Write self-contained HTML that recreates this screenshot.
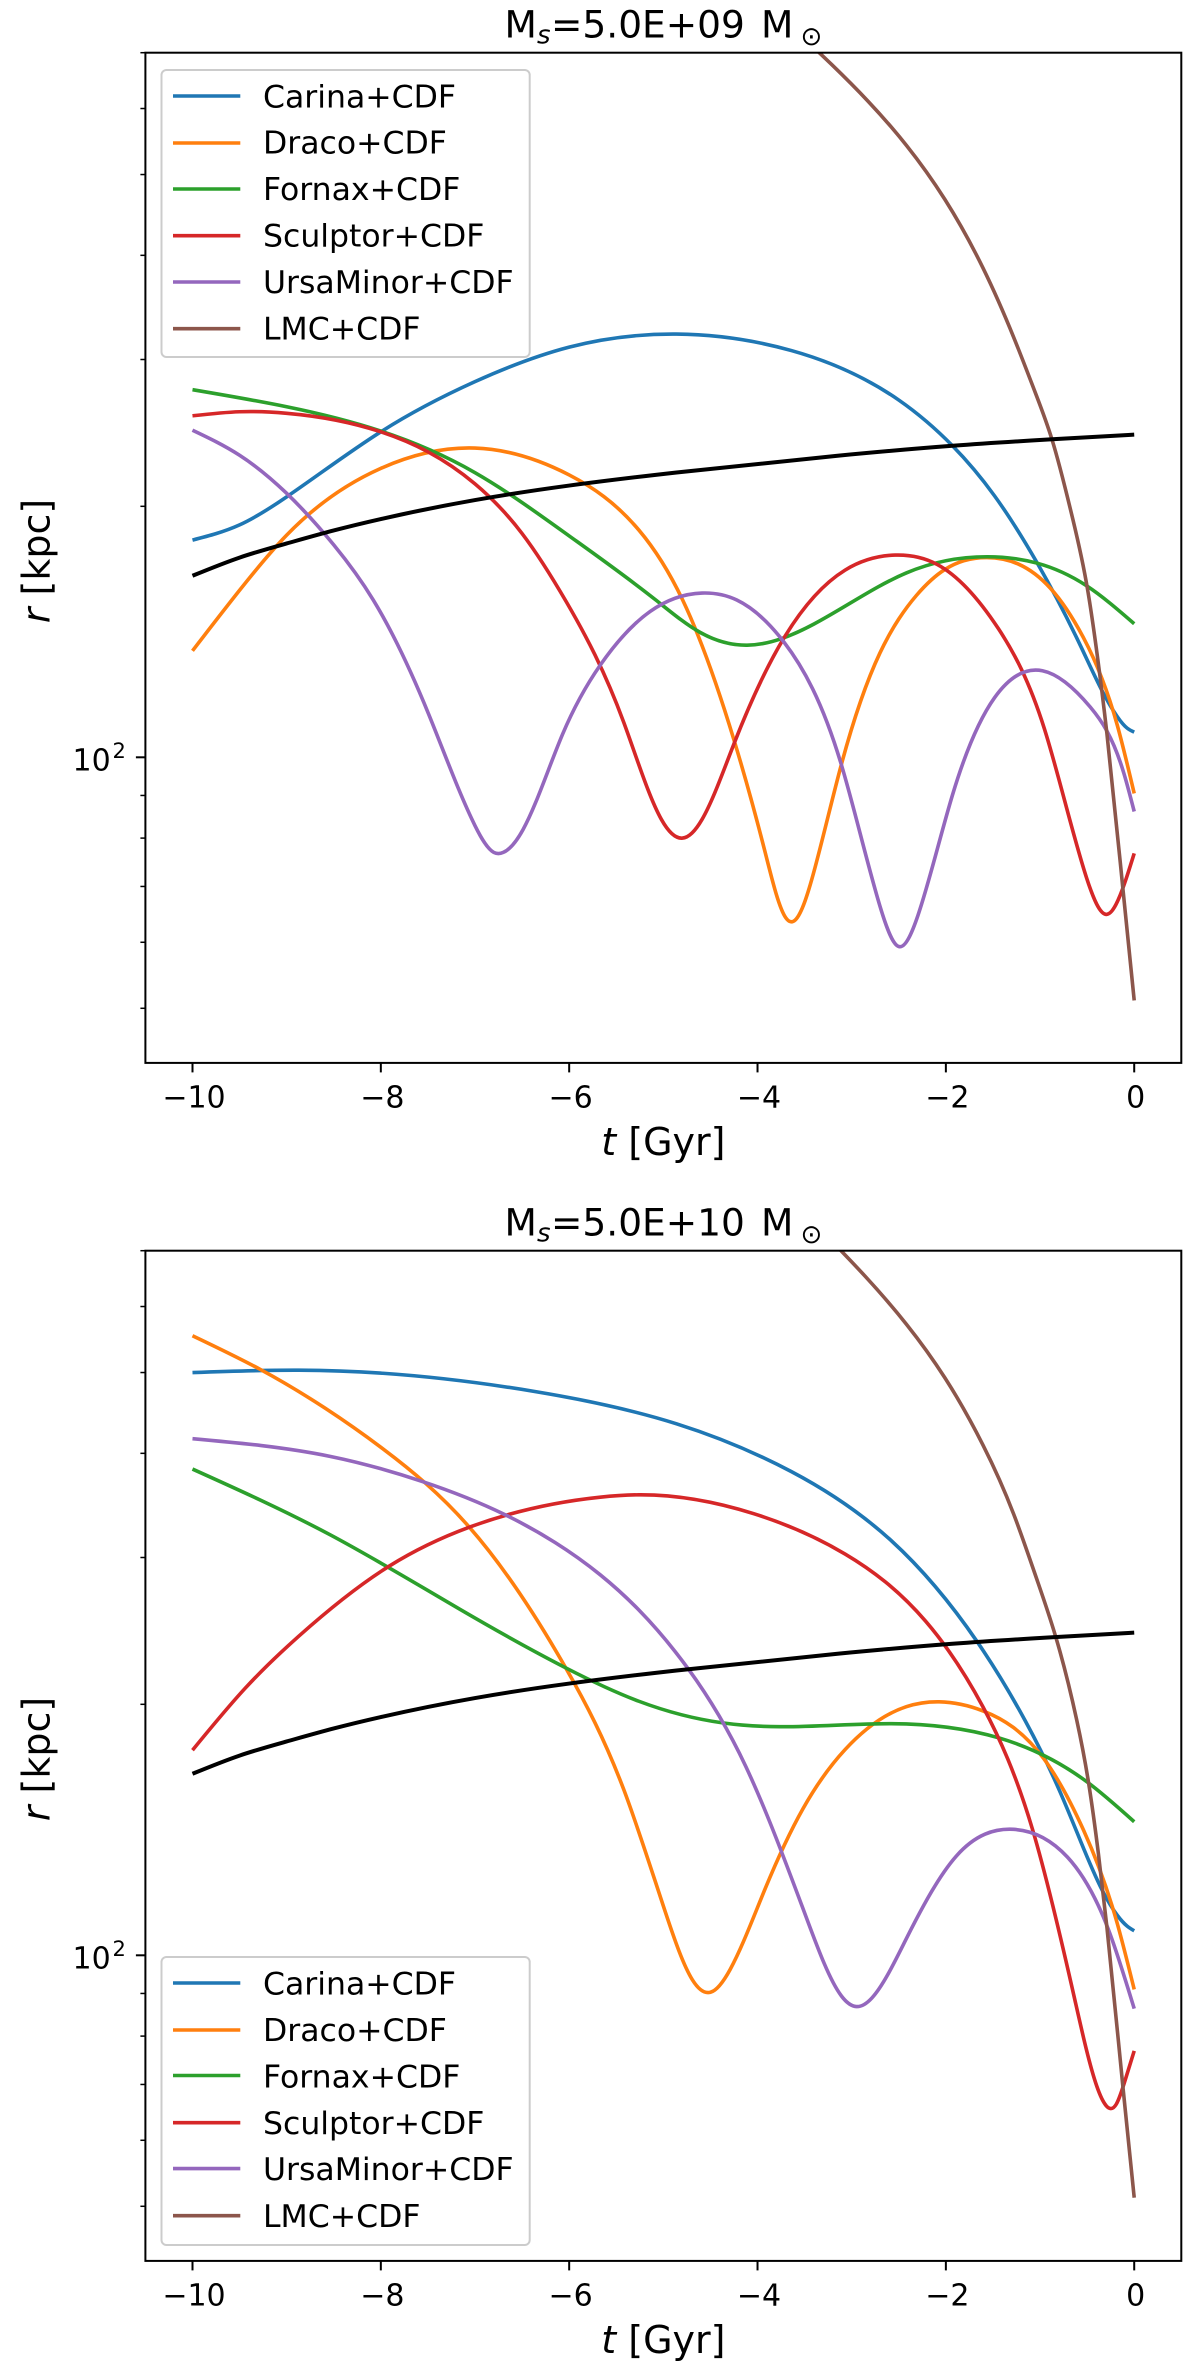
<!DOCTYPE html>
<html lang="en">
<head>
<meta charset="utf-8">
<title>Satellite orbits: galactocentric radius against time</title>
<style>
html,body{margin:0;padding:0;background:#fff;width:1200px;height:2366px;overflow:hidden}
svg{display:block}
text{font-family:"DejaVu Sans","Liberation Sans",sans-serif;fill:#000}
.legend-text{font-size:31.5px}
.title{font-size:37.5px}
.title-sub{font-size:26px}
.axis-label{font-size:38px}
.tick-text{font-size:30px}
</style>
</head>
<body>
<svg id="figure" xmlns="http://www.w3.org/2000/svg" width="1200" height="2366" viewBox="0 0 1200 2366">
  <defs>
    <clipPath id="clip-top"><rect x="145.4" y="52.7" width="1035.9" height="1010.2"/></clipPath>
    <clipPath id="clip-bottom"><rect x="145.4" y="1250.7" width="1035.9" height="1010.2"/></clipPath>
  </defs>

  <g id="panel-top">
    <g id="curves-top" clip-path="url(#clip-top)"></g>
    <g id="axes-top"></g>
    <g>
      <text class="title" x="504.5" y="37.5">M</text>
      <text class="title-sub" x="537" y="43.5" font-style="italic">s</text>
      <text class="title" x="551" y="37.5">=5.0E+09</text>
      <text class="title" x="761" y="37.5">M</text>
      <text class="title-sub" x="800.5" y="45">⊙</text>
    </g>
    <text class="axis-label" x="663.4" y="1155" text-anchor="middle"><tspan font-style="italic">t</tspan> [Gyr]</text>
    <text class="axis-label" transform="translate(49.5,561) rotate(-90)" text-anchor="middle"><tspan font-style="italic">r</tspan> [kpc]</text>
    <g>
      <rect x="161.5" y="70" width="368.2" height="287" rx="5" ry="5" fill="#fff" fill-opacity="0.8" stroke="#ccc" stroke-width="2"/>
      <g><line x1="173" x2="240.3" y1="96" y2="96" stroke="#1f77b4" stroke-width="3.6"/><text class="legend-text" x="263" y="107.3">Carina+CDF</text></g>
      <g><line x1="173" x2="240.3" y1="143" y2="143" stroke="#ff7f0e" stroke-width="3.6"/><text class="legend-text" x="263" y="153.6">Draco+CDF</text></g>
      <g><line x1="173" x2="240.3" y1="189" y2="189" stroke="#2ca02c" stroke-width="3.6"/><text class="legend-text" x="263" y="200">Fornax+CDF</text></g>
      <g><line x1="173" x2="240.3" y1="235.7" y2="235.7" stroke="#d62728" stroke-width="3.6"/><text class="legend-text" x="263" y="246.4">Sculptor+CDF</text></g>
      <g><line x1="173" x2="240.3" y1="282" y2="282" stroke="#9467bd" stroke-width="3.6"/><text class="legend-text" x="263" y="293">UrsaMinor+CDF</text></g>
      <g><line x1="173" x2="240.3" y1="328.7" y2="328.7" stroke="#8c564b" stroke-width="3.6"/><text class="legend-text" x="263" y="339.4">LMC+CDF</text></g>
    </g>
  </g>

  <g id="panel-bottom">
    <g id="curves-bottom" clip-path="url(#clip-bottom)"></g>
    <g id="axes-bottom"></g>
    <g>
      <text class="title" x="504.5" y="1235.5">M</text>
      <text class="title-sub" x="537" y="1241.5" font-style="italic">s</text>
      <text class="title" x="551" y="1235.5">=5.0E+10</text>
      <text class="title" x="761" y="1235.5">M</text>
      <text class="title-sub" x="800.5" y="1243">⊙</text>
    </g>
    <text class="axis-label" x="663.4" y="2353" text-anchor="middle"><tspan font-style="italic">t</tspan> [Gyr]</text>
    <text class="axis-label" transform="translate(49.5,1759) rotate(-90)" text-anchor="middle"><tspan font-style="italic">r</tspan> [kpc]</text>
    <g>
      <rect x="161.5" y="1957" width="368.2" height="288" rx="5" ry="5" fill="#fff" fill-opacity="0.8" stroke="#ccc" stroke-width="2"/>
      <g><line x1="173" x2="240.3" y1="1983" y2="1983" stroke="#1f77b4" stroke-width="3.6"/><text class="legend-text" x="263" y="1994.5">Carina+CDF</text></g>
      <g><line x1="173" x2="240.3" y1="2030" y2="2030" stroke="#ff7f0e" stroke-width="3.6"/><text class="legend-text" x="263" y="2041">Draco+CDF</text></g>
      <g><line x1="173" x2="240.3" y1="2075.5" y2="2075.5" stroke="#2ca02c" stroke-width="3.6"/><text class="legend-text" x="263" y="2087.5">Fornax+CDF</text></g>
      <g><line x1="173" x2="240.3" y1="2122.7" y2="2122.7" stroke="#d62728" stroke-width="3.6"/><text class="legend-text" x="263" y="2134">Sculptor+CDF</text></g>
      <g><line x1="173" x2="240.3" y1="2168.6" y2="2168.6" stroke="#9467bd" stroke-width="3.6"/><text class="legend-text" x="263" y="2180">UrsaMinor+CDF</text></g>
      <g><line x1="173" x2="240.3" y1="2215.7" y2="2215.7" stroke="#8c564b" stroke-width="3.6"/><text class="legend-text" x="263" y="2227">LMC+CDF</text></g>
    </g>
  </g>
</svg>

<script>
// ---- shared axis values ----
const xTickValues = [-10, -8, -6, -4, -2, 0];
const xTickLabels = ["\u221210", "\u22128", "\u22126", "\u22124", "\u22122", "0"];
const yMajorTicks = [100];
const yMinorTicks = [50, 60, 70, 80, 90, 200, 300, 400, 500, 600, 700];

// ---- black reference curve (same in both panels) ----
const tBlack = [-10,-9.5,-9,-8.5,-8,-7,-6,-4.86,-3.15,-1.93,-0.87,0];
const rBlack = [165.1,173.6,180.5,187.1,193.1,203.5,211.8,219.6,230,236.4,240.7,243.8];

// ---- top panel: Ms = 5.0E+09 ----
const tCarinaTop = [-10,-9.5,-9,-8,-7,-6,-4.86,-3.64,-2.5,-1.93,-1.485,-1.03,-0.56,-0.342,-0.18,-0.075,0];
const rCarinaTop = [182.2,190,205.3,245.7,282.2,310.4,321.8,307.5,268.2,236.4,206,171,135.3,120.2,111.9,108.4,107.2];

const tDracoTop = [-10,-9.5,-9,-8,-7,-6,-5.26,-4.795,-4.25,-3.92,-3.7,-3.6,-3.39,-3.11,-2.906,-2.7,-2.5,-2.31,-2.01,-1.565,-0.89,-0.537,-0.18,0];
const rDracoTop = [134.2,158.6,184.7,222.1,234.9,218.1,187.3,154.4,104.9,77,64.2,63.8,73.7,98,116.7,133.4,146.5,156.5,168,173.6,159.5,139,109.3,90.5];

const tFornaxTop = [-10,-9,-8,-7,-6,-5.08,-4.61,-4.11,-3.4,-2.42,-1.56,-0.51,0];
const rFornaxTop = [276,263.3,246.2,219.5,184.3,154.4,141.2,136.3,144.5,166.4,174,160.7,144.6];

const tSculptorTop = [-10,-9.5,-9,-8,-7.5,-7,-6.5,-6.03,-5.42,-5.02,-4.795,-4.59,-4.25,-3.72,-3.07,-2.54,-2.09,-1.443,-0.955,-0.508,-0.297,-0.095,0];
const rSculptorTop = [256.8,259.7,258.6,245.7,232.5,212.8,185.5,153.6,110.1,84.2,80,84.2,103.8,139,167.7,174.8,170.3,142.7,108.3,71.8,64.8,71,76.7];

const tUrsaTop = [-10,-9.5,-9,-8.5,-8.08,-7.49,-7,-6.8,-6.7,-6.49,-6.07,-5.67,-5.14,-4.59,-4.22,-3.72,-3.11,-2.7,-2.5,-2.297,-1.93,-1.483,-0.975,-0.467,-0.11,0];
const rUrsaTop = [246.8,230.3,207.3,179.8,154.4,112.5,82.8,76.9,76.9,81.9,106.6,129,149.6,157.4,154.4,137.5,98,66.3,59.3,64.6,90.1,117.9,127,114.9,95.7,86.1];

const tLmcTop = [-3.6,-2.824,-2.418,-2.01,-1.606,-1.28,-1.036,-0.874,-0.65,-0.495,-0.395,-0.29,-0.122,0];
const rLmcTop = [745,611.8,541.8,466.7,386.3,319,271.1,240.7,192.6,158.9,133.2,106.8,69.9,51.1];

// ---- bottom panel: Ms = 5.0E+10 ----
const tCarinaBottom = [-10,-8.87,-7.98,-6.35,-4.86,-3.64,-2.58,-1.666,-1.156,-0.785,-0.57,-0.34,-0.18,-0.075,0];
const rCarinaBottom = [500,503.3,499,474.2,434,380.3,314.3,237.6,191,156.8,137.1,119.7,111.7,108.4,107];

const tDracoBottom = [-10,-9.28,-8.59,-7.98,-7.06,-6.03,-5.42,-4.98,-4.69,-4.5,-4.29,-3.92,-3.516,-3.07,-2.42,-2.07,-1.606,-0.96,-0.537,-0.18,0];
const rDracoBottom = [553.5,504.3,453,405.2,326.2,220.5,158,112.8,93.4,90.3,96.2,120.1,150,176.5,198.7,201.4,196.4,172.1,141.2,109.2,91];

const tFornaxBottom = [-10,-8.54,-7.16,-6.03,-5.26,-4.37,-3.76,-2.58,-1.43,-0.5,0];
const rFornaxBottom = [383,319.5,260,221,201.7,190,188,189.6,182.2,161.4,144.6];

const tSculptorBottom = [-10,-9.44,-8.87,-7.91,-7.06,-5.67,-5.26,-4.04,-3.07,-2.215,-1.606,-1.08,-0.63,-0.398,-0.297,-0.19,-0.095,0];
const rSculptorBottom = [176.2,209.1,241.5,293,326.2,354.4,356.7,338.6,302.9,251.6,198.6,141.6,88.4,69.7,66,66.3,70.9,76.8];

const tUrsaBottom = [-10,-8.54,-7.57,-6.68,-6.15,-5.67,-5.26,-4.735,-4.125,-3.474,-3.11,-2.95,-2.785,-2.42,-1.89,-1.28,-0.71,-0.27,0];
const rUrsaBottom = [416.5,396.7,370.4,337.6,312.7,286,259.5,220.5,168.5,110.4,89.4,86.8,88.9,104.7,131.5,141.6,131.2,107.1,86.3];

const tLmcBottom = [-3.3,-2.418,-2.01,-1.606,-1.28,-1.036,-0.833,-0.61,-0.486,-0.38,-0.29,-0.122,0];
const rLmcBottom = [736,571.2,492.7,409.3,338.2,282.9,240.9,191.4,161.4,132.3,108.1,69.9,51.2];

// ---- series lists per panel ----
const seriesNames = ["carina", "draco", "fornax", "sculptor", "ursa-minor", "lmc"];
const seriesColors = ["#1f77b4", "#ff7f0e", "#2ca02c", "#d62728", "#9467bd", "#8c564b"];
const timesTop = [tCarinaTop, tDracoTop, tFornaxTop, tSculptorTop, tUrsaTop, tLmcTop];
const radiiTop = [rCarinaTop, rDracoTop, rFornaxTop, rSculptorTop, rUrsaTop, rLmcTop];
const timesBottom = [tCarinaBottom, tDracoBottom, tFornaxBottom, tSculptorBottom, tUrsaBottom, tLmcBottom];
const radiiBottom = [rCarinaBottom, rDracoBottom, rFornaxBottom, rSculptorBottom, rUrsaBottom, rLmcBottom];

// ---- axis functions ----
const NS = "http://www.w3.org/2000/svg";
const PLOT_LEFT = 145.4, PLOT_RIGHT = 1181.3;
const T_MIN = -10.5, T_MAX = 0.5, R_MIN = 43, R_MAX = 700;

function xScale(t) {
  return PLOT_LEFT + (t - T_MIN) / (T_MAX - T_MIN) * (PLOT_RIGHT - PLOT_LEFT);
}
function makeYScale(top, bottom) {
  const span = Math.log10(R_MAX) - Math.log10(R_MIN);
  return function (r) {
    return bottom - (Math.log10(r) - Math.log10(R_MIN)) / span * (bottom - top);
  };
}

// Natural cubic spline through the read points, emitted as Bezier segments
function curvePath(ts, rs, yScale) {
  const xs = ts.map(xScale), ys = rs.map(yScale), n = xs.length;
  const h = [], d = [];
  for (let i = 0; i < n - 1; i++) {
    h.push(xs[i + 1] - xs[i]);
    d.push((ys[i + 1] - ys[i]) / h[i]);
  }
  const s = new Array(n).fill(0), c = new Array(n).fill(0), e = new Array(n).fill(0);
  for (let i = 1; i < n - 1; i++) {
    const piv = 2 * (h[i - 1] + h[i]) - h[i - 1] * c[i - 1];
    c[i] = h[i] / piv;
    e[i] = (6 * (d[i] - d[i - 1]) - h[i - 1] * e[i - 1]) / piv;
  }
  for (let i = n - 2; i > 0; i--) {
    s[i] = e[i] - c[i] * s[i + 1];
  }
  const m = [];
  for (let i = 0; i < n - 1; i++) {
    m.push(d[i] - h[i] * (2 * s[i] + s[i + 1]) / 6);
  }
  m.push(d[n - 2] + h[n - 2] * (s[n - 2] + 2 * s[n - 1]) / 6);
  let path = "M" + xs[0].toFixed(2) + " " + ys[0].toFixed(2);
  for (let i = 0; i < n - 1; i++) {
    path += "C" + (xs[i] + h[i] / 3).toFixed(2) + " " + (ys[i] + m[i] * h[i] / 3).toFixed(2) + " " +
            (xs[i + 1] - h[i] / 3).toFixed(2) + " " + (ys[i + 1] - m[i + 1] * h[i] / 3).toFixed(2) + " " +
            xs[i + 1].toFixed(2) + " " + ys[i + 1].toFixed(2);
  }
  return path;
}

function drawCurve(group, ts, rs, yScale, color, width, name) {
  const p = document.createElementNS(NS, "path");
  p.setAttribute("d", curvePath(ts, rs, yScale));
  p.setAttribute("fill", "none");
  p.setAttribute("stroke", color);
  p.setAttribute("stroke-width", width);
  p.setAttribute("stroke-linejoin", "round");
  
  
  group.appendChild(p);
}

function drawTickLine(group, x1, y1, x2, y2, width, name) {
  const l = document.createElementNS(NS, "line");
  l.setAttribute("x1", x1); l.setAttribute("y1", y1);
  l.setAttribute("x2", x2); l.setAttribute("y2", y2);
  l.setAttribute("stroke", "#000");
  l.setAttribute("stroke-width", width);
  
  
  group.appendChild(l);
}

function drawText(group, x, y, str, cls, anchor, size, name) {
  const t = document.createElementNS(NS, "text");
  t.setAttribute("x", x); t.setAttribute("y", y);
  t.setAttribute("class", cls);
  t.setAttribute("text-anchor", anchor);
  if (size) t.setAttribute("style", "font-size:" + size);
  
  
  t.textContent = str;
  group.appendChild(t);
}

function drawAxes(group, top, bottom, yScale) {
  const frame = document.createElementNS(NS, "rect");
  frame.setAttribute("x", PLOT_LEFT); frame.setAttribute("y", top);
  frame.setAttribute("width", PLOT_RIGHT - PLOT_LEFT);
  frame.setAttribute("height", bottom - top);
  frame.setAttribute("fill", "none");
  frame.setAttribute("stroke", "#000");
  frame.setAttribute("stroke-width", "2");
  
  
  group.appendChild(frame);

  xTickValues.forEach(function (v, i) {
    const x = xScale(v);
    drawTickLine(group, x, bottom, x, bottom + 9.5, 2, "x-tick");
    drawText(group, x + 1.5, bottom + 44.5, xTickLabels[i], "tick-text", "middle", null, "x-tick-label");
  });
  yMajorTicks.forEach(function (v) {
    const y = yScale(v);
    drawTickLine(group, PLOT_LEFT, y, PLOT_LEFT - 9.5, y, 2, "y-major-tick");
    drawText(group, 72.5, y + 13, "10", "tick-text", "start", null, "y-tick-label");
    drawText(group, 112.5, y + 0.5, "2", "tick-text", "start", "21px", "y-tick-exponent");
  });
  yMinorTicks.forEach(function (v) {
    const y = yScale(v);
    drawTickLine(group, PLOT_LEFT, y, PLOT_LEFT - 5, y, 1.5, "y-minor-tick");
  });
}

function drawPanel(curvesId, axesId, top, bottom, times, radii) {
  const yScale = makeYScale(top, bottom);
  const curves = document.getElementById(curvesId);
  times.forEach(function (ts, i) {
    drawCurve(curves, ts, radii[i], yScale, seriesColors[i], 3.6, "line-" + seriesNames[i]);
  });
  drawCurve(curves, tBlack, rBlack, yScale, "#000", 4, "line-reference-black");
  drawAxes(document.getElementById(axesId), top, bottom, yScale);
}

drawPanel("curves-top", "axes-top", 52.7, 1062.9, timesTop, radiiTop);
drawPanel("curves-bottom", "axes-bottom", 1250.7, 2260.9, timesBottom, radiiBottom);
</script>
</body>
</html>
